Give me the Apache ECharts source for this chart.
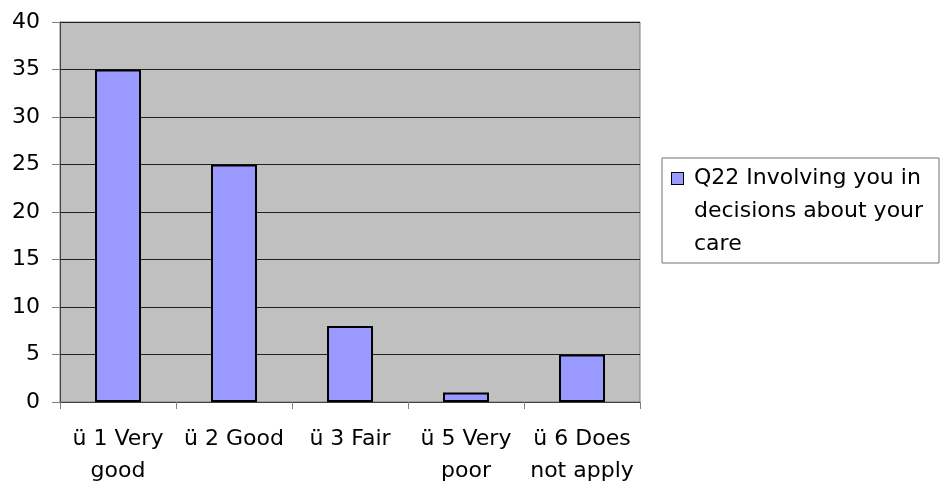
<!DOCTYPE html>
<html>
<head>
<meta charset="utf-8">
<script src="https://cdn.jsdelivr.net/npm/echarts@6/dist/echarts.min.js"></script>
<style>
html,body{margin:0;padding:0;background:#fff;}
#main{width:940px;height:486px;}
</style>
</head>
<body>
<div id="main"></div>
<script>
var categories = ['\u00fc 1 Very\ngood', '\u00fc 2 Good', '\u00fc 3 Fair', '\u00fc 5 Very\npoor', '\u00fc 6 Does\nnot apply'];
var values = [35, 25, 8, 1, 5];
var seriesName = 'Q22 Involving you in decisions about your care';
var legendLines = ['Q22 Involving you in', 'decisions about your', 'care'];
var yTicks = {min: 0, max: 40, step: 5};

var FONT = 'DejaVu Sans';
var chart = echarts.init(document.getElementById('main'));
var option = {
    animation: false,
    textStyle: {fontFamily: FONT},
    grid: {
        left: 60,
        right: 300,
        top: 22,
        bottom: 84,
        outerBoundsMode: 'none',
        show: true,
        backgroundColor: '#c0c0c0',
        borderColor: '#808080',
        borderWidth: 1
    },
    legend: {
        left: 662,
        top: 158,
        orient: 'vertical',
        icon: 'none',
        itemWidth: 0,
        itemGap: 0,
        padding: [4, 5, 2, 5],
        borderColor: '#707070',
        borderWidth: 1,
        backgroundColor: '#fff',
        selectedMode: false,
        formatter: function () {
            return '{sq|}{gap|}{t|' + legendLines[0] + '}\n{ind|}{t|' + legendLines[1] + '}\n{ind|}{t|' + legendLines[2] + '}';
        },
        textStyle: {
            width: 262,
            color: '#000',
            fontFamily: FONT,
            fontSize: 22,
            lineHeight: 33,
            rich: {
                sq: {width: 11, height: 11, backgroundColor: '#9999ff', borderColor: '#000', borderWidth: 1},
                gap: {width: 11},
                ind: {width: 22},
                t: {fontSize: 22, fontFamily: FONT, color: '#000', lineHeight: 33}
            }
        },
        data: [seriesName]
    },
    xAxis: {
        type: 'category',
        data: categories,
        axisLine: {lineStyle: {color: '#404040', width: 1}},
        axisTick: {show: true, length: 7, lineStyle: {color: '#808080'}},
        axisLabel: {
            interval: 0,
            margin: 21,
            color: '#000',
            fontFamily: FONT,
            fontSize: 22,
            lineHeight: 32
        }
    },
    yAxis: {
        type: 'value',
        min: yTicks.min,
        max: yTicks.max,
        interval: yTicks.step,
        axisLine: {show: true, lineStyle: {color: '#404040', width: 1}},
        axisTick: {show: true, length: 8, lineStyle: {color: '#808080'}},
        splitLine: {show: true, lineStyle: {color: '#202020', width: 1}},
        axisLabel: {
            margin: 20,
            color: '#000',
            fontFamily: FONT,
            fontSize: 22
        }
    },
    series: [{
        name: seriesName,
        type: 'bar',
        data: values,
        barWidth: 46,
        itemStyle: {
            color: '#9999ff',
            borderColor: '#000',
            borderWidth: 2
        }
    }]
};
chart.setOption(option);
</script>
</body>
</html>
